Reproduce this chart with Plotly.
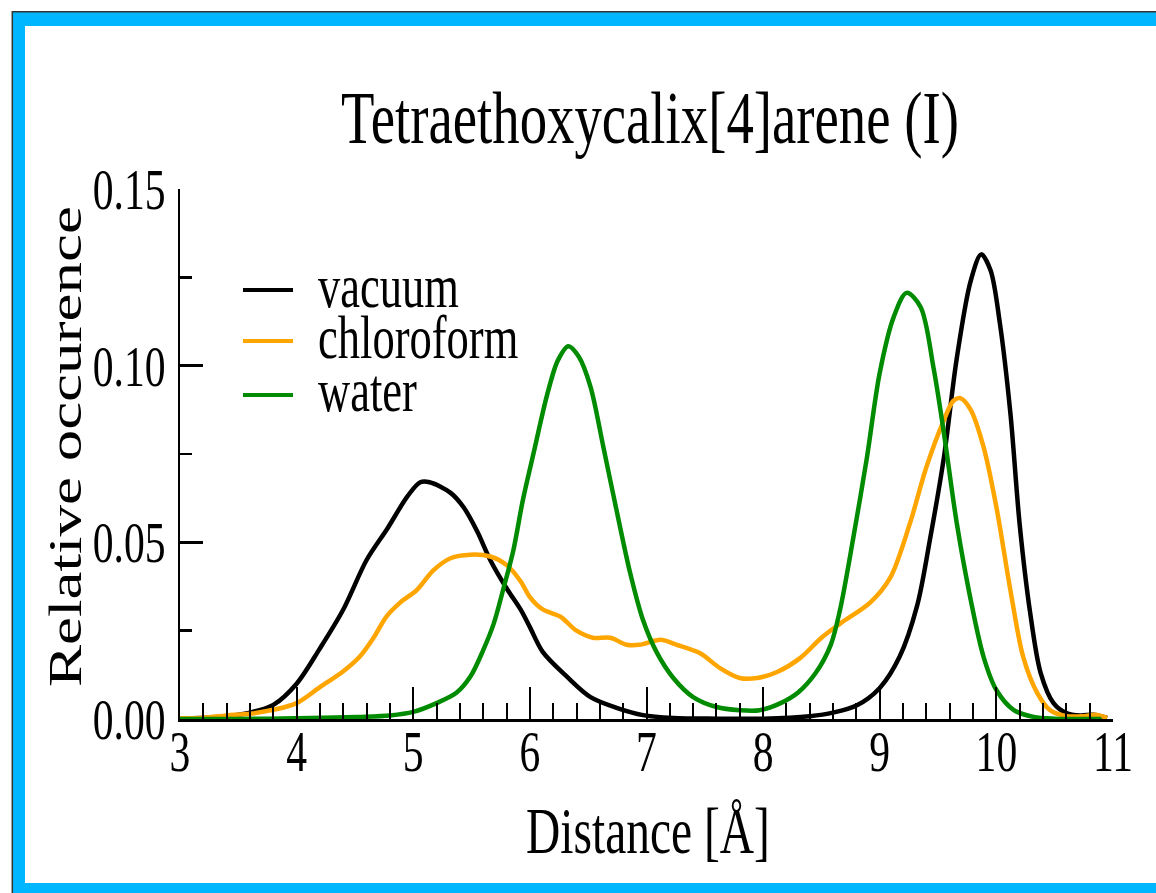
import plotly.graph_objects as go

# Distance distributions (Å) for tetraethoxycalix[4]arene in three environments
vacuum_x = [3.0, 3.3, 3.6, 3.8, 4.0, 4.2, 4.4, 4.6, 4.78, 4.95, 5.06, 5.14, 5.32, 5.43,
            5.55, 5.66, 5.80, 5.92, 6.0, 6.11, 6.32, 6.52, 6.75, 6.97, 7.23, 7.6, 8.0,
            8.4, 8.6, 8.8, 9.0, 9.17, 9.32, 9.43, 9.55, 9.66, 9.78, 9.87, 9.95, 10.03,
            10.12, 10.2, 10.29, 10.38, 10.49, 10.6, 10.72, 10.83, 10.95]
vacuum_y = [0.0002, 0.0005, 0.0018, 0.004, 0.010, 0.020, 0.031, 0.045, 0.054, 0.063,
            0.067, 0.067, 0.064, 0.060, 0.053, 0.045, 0.037, 0.031, 0.026, 0.019,
            0.0119, 0.0062, 0.0031, 0.0011, 0.0003, 0.0001, 0.0001, 0.0008, 0.0018,
            0.0038, 0.0088, 0.0176, 0.032, 0.0507, 0.074, 0.102, 0.124, 0.1315, 0.127,
            0.112, 0.0866, 0.055, 0.030, 0.013, 0.0045, 0.0017, 0.001, 0.0012, 0.0003]

chloroform_x = [3.0, 3.17, 3.4, 3.6, 3.8, 4.0, 4.2, 4.4, 4.54, 4.66, 4.77, 4.89, 5.03,
                5.17, 5.32, 5.49, 5.66, 5.80, 5.92, 6.0, 6.11, 6.26, 6.40, 6.54, 6.69,
                6.83, 6.94, 7.12, 7.26, 7.46, 7.63, 7.80, 7.95, 8.12, 8.32, 8.5, 8.66,
                8.92, 9.09, 9.26, 9.40, 9.55, 9.63, 9.69, 9.78, 9.89, 10.0, 10.12,
                10.23, 10.35, 10.46, 10.6, 10.75, 10.85, 10.95]
chloroform_y = [0.0002, 0.0003, 0.001, 0.0015, 0.0026, 0.0045, 0.009, 0.0135, 0.0176,
                0.023, 0.029, 0.033, 0.0365, 0.042, 0.0455, 0.0465, 0.046, 0.0436,
                0.039, 0.0345, 0.031, 0.029, 0.025, 0.023, 0.023, 0.021, 0.021, 0.0224,
                0.021, 0.0186, 0.0144, 0.0116, 0.0116, 0.0133, 0.0173, 0.023, 0.027,
                0.033, 0.040, 0.0555, 0.0713, 0.0846, 0.090, 0.0908, 0.0875, 0.077,
                0.060, 0.0365, 0.0176, 0.0074, 0.0025, 0.0008, 0.0008, 0.0012, 0.0003]

water_x = [3.0, 3.5, 4.0, 4.52, 4.8, 5.0, 5.2, 5.37, 5.49, 5.6, 5.69, 5.77, 5.86, 5.94,
           6.03, 6.15, 6.24, 6.33, 6.42, 6.52, 6.63, 6.75, 6.86, 6.97, 7.09, 7.23, 7.40,
           7.6, 7.8, 7.97, 8.15, 8.3, 8.45, 8.58, 8.66, 8.77, 8.89, 9.0, 9.12, 9.23,
           9.35, 9.46, 9.55, 9.66, 9.78, 9.89, 10.0, 10.15, 10.32, 10.5, 10.9]
water_y = [0.0, 0.0, 0.0002, 0.0006, 0.001, 0.002, 0.0045, 0.0074, 0.012, 0.0195, 0.027,
           0.0365, 0.048, 0.062, 0.075, 0.092, 0.1015, 0.1055, 0.1025, 0.094, 0.077,
           0.058, 0.0413, 0.028, 0.0187, 0.0116, 0.0062, 0.0034, 0.0025, 0.0025, 0.0045,
           0.0075, 0.013, 0.021, 0.031, 0.0507, 0.074, 0.098, 0.1138, 0.1206, 0.1166,
           0.0996, 0.081, 0.0555, 0.0337, 0.0176, 0.0082, 0.0025, 0.0006, 0.0001, 0.0]

series_names = ["vacuum", "chloroform", "water"]
series_colors = ["#000000", "#FFA500", "#008B00"]
series_x = [vacuum_x, chloroform_x, water_x]
series_y = [vacuum_y, chloroform_y, water_y]

x_ticks = [3, 4, 5, 6, 7, 8, 9, 10, 11]
y_ticks = [0.0, 0.05, 0.10, 0.15]

W, H = 1156, 893
FONT = "Liberation Serif"


def px(x):
    return x / W


def py(y):
    return 1 - y / H


fig = go.Figure()
for name, color, xs, ys in zip(series_names, series_colors, series_x, series_y):
    fig.add_trace(go.Scatter(
        x=xs, y=ys, mode="lines", name=name,
        line=dict(color=color, width=4.5, shape="spline", smoothing=0.9),
        showlegend=False, hoverinfo="skip",
    ))

shapes = []
# page frame: thin dark edge and a blue band
blue = "#00B7FF"
shapes.append(dict(type="rect", xref="paper", yref="paper", x0=px(13), x1=px(25),
                   y0=0, y1=py(12), fillcolor=blue, line_width=0, layer="above"))
shapes.append(dict(type="rect", xref="paper", yref="paper", x0=px(13), x1=1.0,
                   y0=py(26), y1=py(12), fillcolor=blue, line_width=0, layer="above"))
shapes.append(dict(type="rect", xref="paper", yref="paper", x0=px(13), x1=1.0,
                   y0=0, y1=py(883), fillcolor=blue, line_width=0, layer="above"))
shapes.append(dict(type="line", xref="paper", yref="paper", x0=px(12), x1=1.0,
                   y0=py(11.8), y1=py(11.8), line=dict(color="#333333", width=1.5)))
shapes.append(dict(type="line", xref="paper", yref="paper", x0=px(12.3), x1=px(12.3),
                   y0=0, y1=py(11), line=dict(color="#333333", width=1.5)))

annotations = []
# legend drawn inside the plot area
legend_rows = [290, 341, 395]
for name, color, row in zip(series_names, series_colors, legend_rows):
    shapes.append(dict(type="line", xref="paper", yref="paper", x0=px(243), x1=px(293),
                       y0=py(row), y1=py(row), line=dict(color=color, width=4)))
    annotations.append(dict(text=name, xref="paper", yref="paper", x=px(316), y=py(row - 4),
                            xanchor="left", yanchor="middle", align="left", showarrow=False,
                            font=dict(family=FONT, size=61, color="black")))

annotations.append(dict(text="Distance [Å]", xref="paper", yref="paper", x=px(648), y=py(831),
                        xanchor="center", yanchor="middle", showarrow=False,
                        font=dict(family=FONT, size=65, color="black")))
annotations.append(dict(text="Relative occurence", xref="paper", yref="paper", x=px(66),
                        y=py(447), xanchor="center", yanchor="middle", textangle=-90,
                        showarrow=False, font=dict(family=FONT, size=63, color="black")))

fig.update_layout(
    width=W, height=H,
    margin=dict(l=0, r=0, t=0, b=0, pad=0),
    paper_bgcolor="white", plot_bgcolor="white",
    title=dict(text="Tetraethoxycalix[4]arene (I)", x=px(650), xanchor="center",
               y=py(117), yanchor="middle", xref="container", yref="container",
               font=dict(family=FONT, size=75, color="black")),
    xaxis=dict(domain=[px(180), px(1113)], range=[3, 11], tickvals=x_ticks,
               ticks="inside", ticklen=32, tickwidth=2, tickcolor="black",
               minor=dict(dtick=0.2, ticks="inside", ticklen=16, tickwidth=2, tickcolor="black"),
               showline=True, linewidth=3, linecolor="black", mirror=False,
               showgrid=False, zeroline=False, automargin=False,
               ticklabelstandoff=-19,
               tickfont=dict(family=FONT, size=57, color="black")),
    yaxis=dict(domain=[py(719), py(189)], range=[0, 0.15], tickvals=y_ticks,
               tickformat=".2f",
               ticks="inside", ticklen=23, tickwidth=2.5, tickcolor="black",
               minor=dict(dtick=0.025, ticks="inside", ticklen=12, tickwidth=2.5, tickcolor="black"),
               showline=True, linewidth=2, linecolor="black", mirror=False,
               showgrid=False, zeroline=False, automargin=False,
               ticklabelstandoff=1,
               tickfont=dict(family=FONT, size=57, color="black")),
    shapes=shapes,
    annotations=annotations,
)

# Narrow all lettering horizontally (condensed serif look), keeping each
# label's anchor point fixed on screen.
squeeze_js = """
var gd = document.getElementById('{plot_id}');
var K = 0.73;
function squeeze() {
  gd.querySelectorAll('text').forEach(function (t) {
    if (!t.textContent.trim()) return;
    var cur = t.getAttribute('transform') || '';
    if (t.hasAttribute('data-sq') && t.getAttribute('data-sq') === cur) return;
    var r = t.getBoundingClientRect();
    if (!r.width) return;
    var own = t.getScreenCTM();
    var rotated = Math.abs(own.b) > 0.5;
    var anc = t.getAttribute('text-anchor') || window.getComputedStyle(t).textAnchor || 'start';
    var sx;
    if (rotated || anc === 'middle') sx = r.left + r.width / 2;
    else if (anc === 'end') sx = r.right;
    else sx = r.left;
    var svg = t.ownerSVGElement;
    var P = t.parentNode.getScreenCTM();
    var S = svg.createSVGMatrix().translate(sx, 0).scaleNonUniform(K, 1).translate(-sx, 0);
    var M = P.inverse().multiply(S).multiply(P);
    var tr = 'matrix(' + [M.a, M.b, M.c, M.d, M.e, M.f].join(',') + ') ' + cur;
    t.setAttribute('transform', tr);
    t.setAttribute('data-sq', tr);
  });
}
squeeze();
gd.on('plotly_afterplot', squeeze);
setTimeout(squeeze, 200);
"""

fig.write_html("out.html", config={"displayModeBar": False, "staticPlot": True},
               post_script=squeeze_js)
